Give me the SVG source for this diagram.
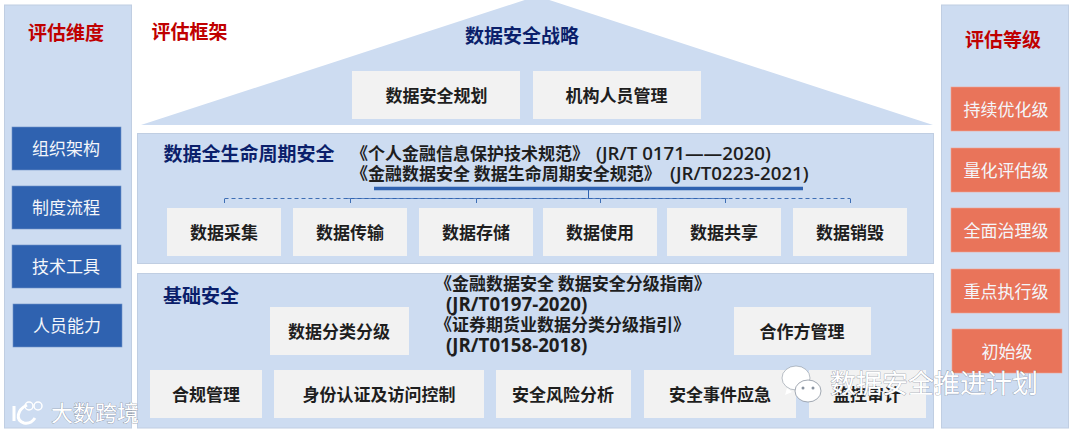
<svg xmlns="http://www.w3.org/2000/svg" width="1072" height="432" viewBox="0 0 1072 432">
<style>
text{font-family:"Noto Sans CJK SC","Noto Sans",sans-serif;text-anchor:middle;font-size:17px}
.latin{font-family:"Open Sans","Noto Sans CJK SC",sans-serif;font-size:18.700px;font-weight:600}
.panel{fill:#CDDCF1;stroke:#C0CEE2;stroke-width:1}
.grey{fill:#F2F2F2}
.blue{fill:#2F62B0;stroke:#6E93C8;stroke-width:.6}
.orange{fill:#E9745A;stroke:#F0A594;stroke-width:.6}
.w{fill:#F4F6FA}
.t{font-weight:700;fill:#1E1E1E}
.red{font-size:19px;font-weight:700;fill:#C00000}
.navy{font-size:19px;font-weight:700;fill:#0B1F6B}
.doc{font-weight:700;fill:#1E1E1E;text-anchor:start}
.wm{fill:#fff;stroke:#7C8694;stroke-width:.6;paint-order:stroke;font-size:26px;text-anchor:start}
.dash{fill:none;stroke:#3F6FB5;stroke-width:1;stroke-dasharray:4 3}
.solid{fill:none;stroke:#2F62B0}
</style>
<rect width="1072" height="432" fill="#fff"/>
<g id="panel-left">
<rect class="panel" x="4.500" y="5" width="127" height="423"/>
<text class="red" x="66" y="40">评估维度</text>
</g>
<g id="dim-org"><rect class="blue" x="12" y="127" width="109" height="43"/><text class="w" x="66" y="155">组织架构</text></g>
<g id="dim-process"><rect class="blue" x="12" y="186" width="109" height="43"/><text class="w" x="66" y="214">制度流程</text></g>
<g id="dim-tools"><rect class="blue" x="12" y="245" width="109" height="43"/><text class="w" x="66" y="273">技术工具</text></g>
<g id="dim-people"><rect class="blue" x="13" y="304" width="109" height="43"/><text class="w" x="67" y="332">人员能力</text></g>
<g id="framework-title"><text class="red" x="189.500" y="39">评估框架</text></g>
<g id="strategy">
<polygon points="141,125 537,-4 933,125" fill="#CDDCF1"/>
<text class="navy" x="522" y="43">数据安全战略</text>
</g>
<g id="plan"><rect class="grey" x="352" y="71" width="168" height="48"/><text class="t" x="436.500" y="102">数据安全规划</text></g>
<g id="staff"><rect class="grey" x="533" y="71" width="168" height="48"/><text class="t" x="616.500" y="102">机构人员管理</text></g>
<g id="lifecycle">
<rect class="panel" x="137.500" y="133.500" width="796" height="130"/>
<text class="navy" x="249" y="161">数据全生命周期安全</text>
<text class="doc" x="351" y="160">《个人金融信息保护技术规范》<tspan class="latin" x="596">(JR/T 0171——2020)</tspan></text>
<text class="doc" x="351" y="180">《金融数据安全 数据生命周期安全规范》<tspan class="latin" x="670">(JR/T0223-2021)</tspan></text>
</g>
<g id="connectors">
<path class="solid" stroke-width="3.500" d="M374 188.500H803"/>
<path class="solid" stroke-width="1" d="M588.500 189V198"/>
<path class="dash" d="M224.500 198.500H850.500"/>
<path class="solid" stroke-width="1" opacity=".7" d="M346 198.500H728"/>
<path class="dash" d="M224.500 199V205M350.500 199V205M476.500 199V205M600.500 199V205M725.500 199V205M850.500 199V205"/>
<path class="solid" stroke-width="4.500" d="M426 296V342"/>
<path class="dash" stroke-dasharray="3 3" d="M409 331.500H417.500V322.500H424"/>
</g>
<g id="collect"><rect class="grey" x="167" y="208" width="114" height="48"/><text class="t" x="224" y="239">数据采集</text></g>
<g id="transfer"><rect class="grey" x="293" y="208" width="114" height="48"/><text class="t" x="350" y="239">数据传输</text></g>
<g id="store"><rect class="grey" x="419" y="208" width="114" height="48"/><text class="t" x="476" y="239">数据存储</text></g>
<g id="use"><rect class="grey" x="543" y="208" width="114" height="48"/><text class="t" x="600" y="239">数据使用</text></g>
<g id="share"><rect class="grey" x="667" y="208" width="114" height="48"/><text class="t" x="724" y="239">数据共享</text></g>
<g id="destroy"><rect class="grey" x="793" y="208" width="114" height="48"/><text class="t" x="850" y="239">数据销毁</text></g>
<g id="foundation">
<rect class="panel" x="137.500" y="273.500" width="796" height="154.500"/>
<text class="navy" x="201" y="303">基础安全</text>
<text class="doc" x="435" y="290">《金融数据安全 数据安全分级指南》</text>
<text class="doc latin" x="446" y="311">(JR/T0197-2020)</text>
<text class="doc" x="435" y="331">《证券期货业数据分类分级指引》</text>
<text class="doc latin" x="446" y="352">(JR/T0158-2018)</text>
</g>
<g id="classify"><rect class="grey" x="270" y="307" width="139" height="48"/><text class="t" x="339" y="338">数据分类分级</text></g>
<g id="partner"><rect class="grey" x="734" y="307" width="137" height="48"/><text class="t" x="802" y="338">合作方管理</text></g>
<g id="comply"><rect class="grey" x="150" y="370" width="112" height="48"/><text class="t" x="206" y="401">合规管理</text></g>
<g id="auth"><rect class="grey" x="274" y="370" width="210" height="48"/><text class="t" x="379" y="401">身份认证及访问控制</text></g>
<g id="risk"><rect class="grey" x="496" y="370" width="135" height="48"/><text class="t" x="563" y="401">安全风险分析</text></g>
<g id="incident"><rect class="grey" x="644" y="370" width="152" height="48"/><text class="t" x="720" y="401">安全事件应急</text></g>
<g id="audit"><rect class="grey" x="809" y="370" width="117" height="48"/><text class="t" x="867" y="401">监控审计</text></g>
<g id="panel-right">
<rect class="panel" x="941.500" y="5" width="127" height="423"/>
<text class="red" x="1003" y="47">评估等级</text>
</g>
<g id="lv5"><rect class="orange" x="951" y="87" width="109" height="44"/><text class="w" x="1006" y="116">持续优化级</text></g>
<g id="lv4"><rect class="orange" x="951" y="148" width="109" height="44"/><text class="w" x="1006" y="177">量化评估级</text></g>
<g id="lv3"><rect class="orange" x="951" y="208" width="109" height="44"/><text class="w" x="1006" y="237">全面治理级</text></g>
<g id="lv2"><rect class="orange" x="951" y="269" width="109" height="44"/><text class="w" x="1006" y="298">重点执行级</text></g>
<g id="lv1"><rect class="orange" x="952" y="329" width="110" height="44"/><text class="w" x="1007" y="358">初始级</text></g>
<g id="watermark-left">
<path d="M14 406V421M27 405C17 410 15 420 24 423C29 424 33 421 35 418" fill="none" stroke="#fff" stroke-width="3"/>
<circle cx="29" cy="406" r="4" fill="none" stroke="#fff" stroke-width="1.500"/>
<circle cx="38" cy="406" r="4" fill="none" stroke="#fff" stroke-width="1.500"/>
<text class="wm" x="51" y="421" style="font-size:22px">大数跨境</text>
</g>
<g id="watermark-right">
<ellipse cx="796" cy="378" rx="14" ry="12" fill="#fff" stroke="#8A93A0" stroke-width=".6"/>
<ellipse cx="808" cy="391" rx="13" ry="11" fill="#fff" stroke="#8A93A0" stroke-width=".8"/>
<path d="M787 388l-2 7 7-3z" fill="#fff"/>
<circle cx="803" cy="388" r="1.500" fill="#8A93A0"/><circle cx="813" cy="388" r="1.500" fill="#8A93A0"/>
<text class="wm" x="830" y="393">数据安全推进计划</text>
</g>
</svg>
